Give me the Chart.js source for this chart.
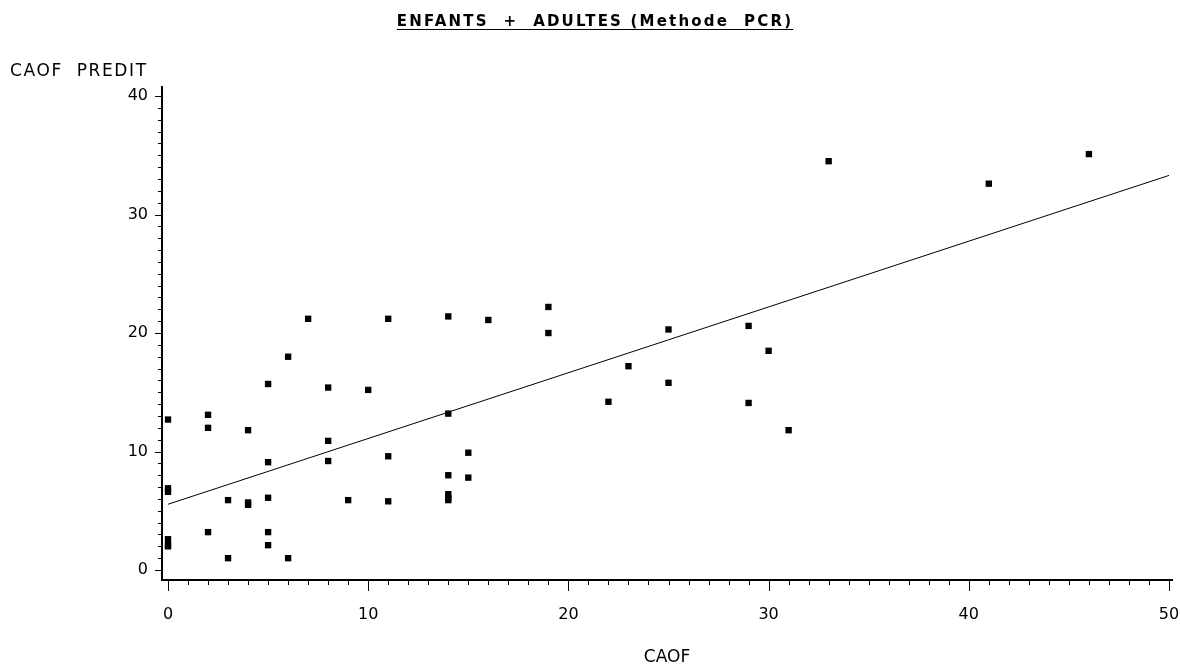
<!DOCTYPE html>
<html>
<head>
    <title>ENFANTS + ADULTES (Methode PCR)</title>
    <script src="https://cdn.jsdelivr.net/npm/chart.js"></script>
    <style>
        body { margin: 0; background: #fff; }
        #wrap { position: relative; width: 1180px; height: 668px; }
        #title {
            position: absolute; left: 0; width: 1190px; top: 12px;
            text-align: center; white-space: pre;
            font: bold 15px "DejaVu Sans"; letter-spacing: 2.2px;
            text-decoration: underline; text-underline-offset: 3px;
        }
        #ylab {
            position: absolute; left: 10px; top: 60px; white-space: pre;
            font: 17px "DejaVu Sans"; letter-spacing: 1.6px;
        }
    </style>
</head>
<body>
<div id="wrap">
    <div id="title">ENFANTS  +  ADULTES (Methode  PCR)</div>
    <div id="ylab">CAOF  PREDIT</div>
    <canvas id="scatter" width="1180" height="668"></canvas>
</div>

<script>
    // observed CAOF vs predicted CAOF
    const caofX = [
        0, 0, 0, 0, 0, 0,
        2, 2, 2,
        3, 3,
        4, 4, 4,
        5, 5, 5, 5, 5,
        6, 6,
        7,
        8, 8, 8,
        9,
        10,
        11, 11, 11,
        14, 14, 14, 14, 14, 14,
        15, 15,
        16,
        19, 19,
        22, 23,
        25, 25,
        29, 29,
        30, 31, 33, 41, 46
    ];
    const predY = [
        12.7, 6.9, 6.6, 2.6, 2.1, 2.0,
        13.1, 12.0, 3.2,
        5.9, 1.0,
        11.8, 5.7, 5.5,
        15.7, 9.1, 6.1, 3.2, 2.1,
        18.0, 1.0,
        21.2,
        15.4, 10.9, 9.2,
        5.9,
        15.2,
        21.2, 9.6, 5.8,
        21.4, 13.2, 8.0, 6.4, 6.1, 5.9,
        9.9, 7.8,
        21.1,
        22.2, 20.0,
        14.2, 17.2,
        20.3, 15.8,
        20.6, 14.1,
        18.5, 11.8, 34.5, 32.6, 35.1
    ];

    // regression line end points
    const fitX = [0, 50];
    const fitY = [5.55, 33.3];

    const xTicks = [0, 10, 20, 30, 40, 50];
    const yTicks = [0, 10, 20, 30, 40];

    const points = caofX.map((x, i) => ({ x: x, y: predY[i] }));
    const fitLine = fitX.map((x, i) => ({ x: x, y: fitY[i] }));

    // SAS style minor / major tick marks outside the axes
    const tickMarks = {
        id: 'tickMarks',
        afterDraw(chart) {
            const ctx = chart.ctx;
            const xs = chart.scales.x, ys = chart.scales.y;
            const area = chart.chartArea;
            ctx.save();
            ctx.strokeStyle = '#000';
            ctx.lineWidth = 1;
            ctx.beginPath();
            for (let v = Math.ceil(xs.min); v <= Math.floor(xs.max); v++) {
                const px = Math.round(xs.getPixelForValue(v)) + 0.5;
                const len = v % 10 === 0 ? 11 : 5;
                ctx.moveTo(px, area.bottom);
                ctx.lineTo(px, area.bottom + len);
            }
            for (let v = Math.ceil(ys.min); v <= Math.floor(ys.max); v++) {
                const py = Math.round(ys.getPixelForValue(v)) + 0.5;
                const len = v % 10 === 0 ? 7 : 4;
                ctx.moveTo(area.left, py);
                ctx.lineTo(area.left - len, py);
            }
            ctx.stroke();
            ctx.restore();
        }
    };

    const tickFont = { family: 'DejaVu Sans', size: 16 };

    new Chart(document.getElementById('scatter'), {
        type: 'scatter',
        data: {
            datasets: [
                {
                    data: points,
                    backgroundColor: '#000',
                    borderWidth: 0,
                    pointStyle: 'rect',
                    pointRadius: 4.5,
                    pointHoverRadius: 4.5
                },
                {
                    type: 'line',
                    data: fitLine,
                    borderColor: '#000',
                    borderWidth: 1,
                    pointRadius: 0,
                    fill: false
                }
            ]
        },
        options: {
            responsive: false,
            animation: false,
            layout: { padding: { top: 87, right: 8, left: 0, bottom: 0 } },
            plugins: { legend: { display: false }, tooltip: { enabled: false } },
            scales: {
                x: {
                    type: 'linear',
                    min: -0.3,
                    max: 50.15,
                    afterBuildTicks: s => { s.ticks = xTicks.map(v => ({ value: v })); },
                    afterFit: s => { s.height = 88; s.paddingLeft = 0; s.paddingRight = 0; },
                    grid: { color: 'transparent', drawOnChartArea: false, tickLength: 11 },
                    border: { color: '#000', width: 2 },
                    ticks: { color: '#000', font: tickFont, padding: 14, maxRotation: 0 },
                    title: {
                        display: true, text: 'CAOF', color: '#000',
                        font: { family: 'DejaVu Sans', size: 17 },
                        padding: { top: 0, bottom: 0 }
                    }
                },
                y: {
                    type: 'linear',
                    min: -0.84,
                    max: 40.76,
                    afterBuildTicks: s => { s.ticks = yTicks.map(v => ({ value: v })); },
                    afterFit: s => { s.width = 162; s.paddingTop = 0; s.paddingBottom = 0; },
                    grid: { color: 'transparent', drawOnChartArea: false, tickLength: 7 },
                    border: { color: '#000', width: 2 },
                    ticks: { color: '#000', font: tickFont, padding: 7 }
                }
            }
        },
        plugins: [tickMarks]
    });
</script>
</body>
</html>
